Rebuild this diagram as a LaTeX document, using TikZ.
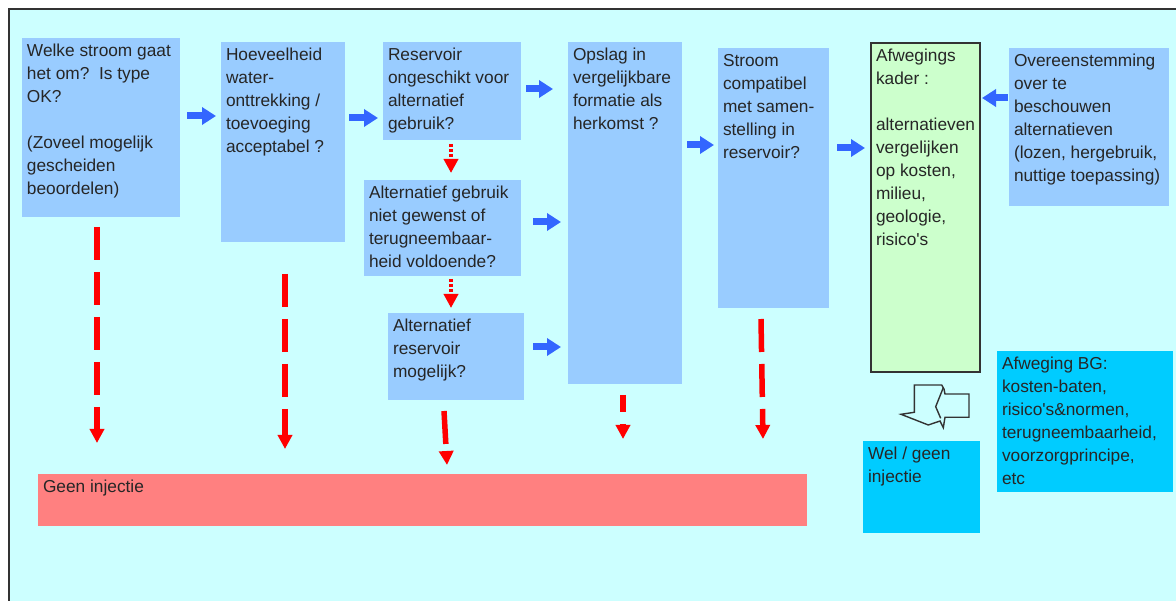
\documentclass[tikz,border=0pt]{standalone}
\usepackage{fontspec}
\setmainfont{Liberation Sans}
\usetikzlibrary{arrows.meta,calc}
\definecolor{bgc}{HTML}{CCFFFF}
\definecolor{boxblue}{HTML}{99CCFF}
\definecolor{boxgreen}{HTML}{CCFFCC}
\definecolor{boxcyan}{HTML}{00CCFF}
\definecolor{boxred}{HTML}{FF8080}
\definecolor{arrblue}{HTML}{3366FF}
\definecolor{arrred}{HTML}{FF0000}
\definecolor{framec}{HTML}{333333}
\newcommand\boxtext[3]{\parbox[t][#2][t]{#1}{\raggedright #3}}
\begin{document}
\begin{tikzpicture}[x=1pt,y=-1pt,
  bx/.style={anchor=north west, inner xsep=5pt, inner ysep=6pt, outer sep=0pt,
    font=\fontsize{17.3}{23}\selectfont, text=black!85},
  bluebox/.style={bx, fill=boxblue},
  barrow/.style={draw=arrblue, line width=7pt, -{Triangle[length=14pt,width=17pt]}, arrblue},
  rarrow/.style={draw=arrred, line width=5.5pt, -{Triangle[length=14pt,width=14pt]}, arrred, dash pattern=on 33pt off 12pt},
  rdot/.style={draw=arrred, line width=4pt, -{Triangle[length=14pt,width=14pt]}, arrred, dash pattern=on 3.5pt off 1.5pt}
]
\useasboundingbox (0,0) rectangle (1176,601);
\fill[white] (0,0) rectangle (1176,601);
\fill[bgc] (9,9) rectangle (1176,601);
\draw[framec, line width=1.5pt] (9,601) -- (9,9) -- (1176,9);

\node[bluebox] (b1) at (22,38) {\boxtext{148pt}{167pt}{Welke stroom gaat\\het om?\ \ Is type\\OK?\\[23pt](Zoveel mogelijk\\gescheiden\\beoordelen)}};
\node[bluebox] (b2) at (221,42) {\boxtext{114pt}{188pt}{Hoeveelheid\\water-\\onttrekking /\\toevoeging\\acceptabel ?}};
\node[bluebox] (b3) at (383,42) {\boxtext{128pt}{86pt}{Reservoir\\ongeschikt voor\\alternatief\\gebruik?}};
\node[bluebox] (b4) at (364,180) {\boxtext{147pt}{84pt}{Alternatief gebruik\\niet gewenst of\\terugneembaar-\\heid voldoende?}};
\node[bluebox] (b5) at (388,313) {\boxtext{126pt}{75pt}{Alternatief\\reservoir\\mogelijk?}};
\node[bluebox] (b6) at (568,42) {\boxtext{104pt}{330pt}{Opslag in\\vergelijkbare\\formatie als\\herkomst ?}};
\node[bluebox] (b7) at (718,48) {\boxtext{101pt}{248pt}{Stroom\\compatibel\\met samen-\\stelling in\\reservoir?}};
\node[bx, fill=boxgreen, draw=framec, line width=1.3pt] (b8) at (871,43) {\boxtext{99pt}{317pt}{Afwegings\\kader :\\[23pt]alternatieven\\vergelijken\\op kosten,\\milieu,\\geologie,\\risico\textquotesingle s}};
\node[bluebox] (b9) at (1009,48) {\boxtext{150pt}{146pt}{Overeenstemming\\over te\\beschouwen\\alternatieven\\(lozen, hergebruik,\\nuttige toepassing)}};
\node[bx, fill=boxcyan] (b10) at (997,351) {\boxtext{166pt}{129pt}{Afweging BG:\\kosten-baten,\\risico\textquotesingle s\&normen,\\terugneembaarheid,\\voorzorgprincipe,\\etc}};
\node[bx, fill=boxcyan] (b11) at (863,441) {\boxtext{107pt}{80pt}{Wel / geen\\injectie}};
\node[bx, fill=boxred] (b12) at (38,474) {\boxtext{759pt}{40pt}{Geen injectie}};

% blue arrows
\draw[barrow] ($(b1.north east)+(7,78)$) -- ($(b2.north west)+(-5,74)$);
\draw[barrow] ($(b2.north east)+(4,76)$) -- ($(b3.north west)+(-5,76)$);
\draw[barrow] ($(b3.north east)+(5,47)$) -- ($(b6.north west)+(-15,47)$);
\draw[barrow] ($(b4.north east)+(12,42)$) -- ($(b6.north west)+(-7,180)$);
\draw[barrow] ($(b5.north east)+(9,34)$) -- ($(b6.north west)+(-7,305)$);
\draw[barrow] ($(b6.north east)+(5,103)$) -- ($(b7.north west)+(-4,97)$);
\draw[barrow] ($(b7.north east)+(8,100)$) -- ($(b8.north west)+(-6,105)$);
\draw[barrow] ($(b9.north west)+(-1,50)$) -- ($(b8.north east)+(2,55)$);

% red dotted arrows
\draw[rdot] ($(b3.south west)+(68,4)$) -- ($(b4.north west)+(87,-7)$);
\draw[rdot] ($(b4.south west)+(87,3)$) -- ($(b5.north west)+(63,-5)$);

% red dashed arrows
\draw[rarrow] ($(b1.south west)+(75,10)$) -- ($(b12.north west)+(59,-31)$);
\draw[rarrow] ($(b2.south west)+(64,32)$) -- ($(b12.north west)+(247,-25)$);
\draw[rarrow] ($(b5.south west)+(56,11)$) -- ($(b12.north west)+(409,-9)$);
\draw[rarrow, dash pattern=on 17pt off 12pt] ($(b6.south west)+(55,11)$) -- ($(b12.north west)+(585,-35)$);
\draw[rarrow] ($(b7.south west)+(43,11)$) -- ($(b12.north west)+(725,-35)$);

% outline bent arrow
\draw[framec, line width=1.4pt, line join=miter]
  (914.3,385) -- (941.7,385) -- (944,389) -- (945,394) -- (969,394) -- (969,417.3)
  -- (945,417.3) -- (943.3,427.7) -- (940,421) -- (928.3,425) -- (901,414.3)
  -- (914.3,412.3) -- cycle;
\draw[framec, line width=1.4pt] (943.3,387.7) -- (935.7,406.7) -- (940.7,418.3);
\end{tikzpicture}
\end{document}
